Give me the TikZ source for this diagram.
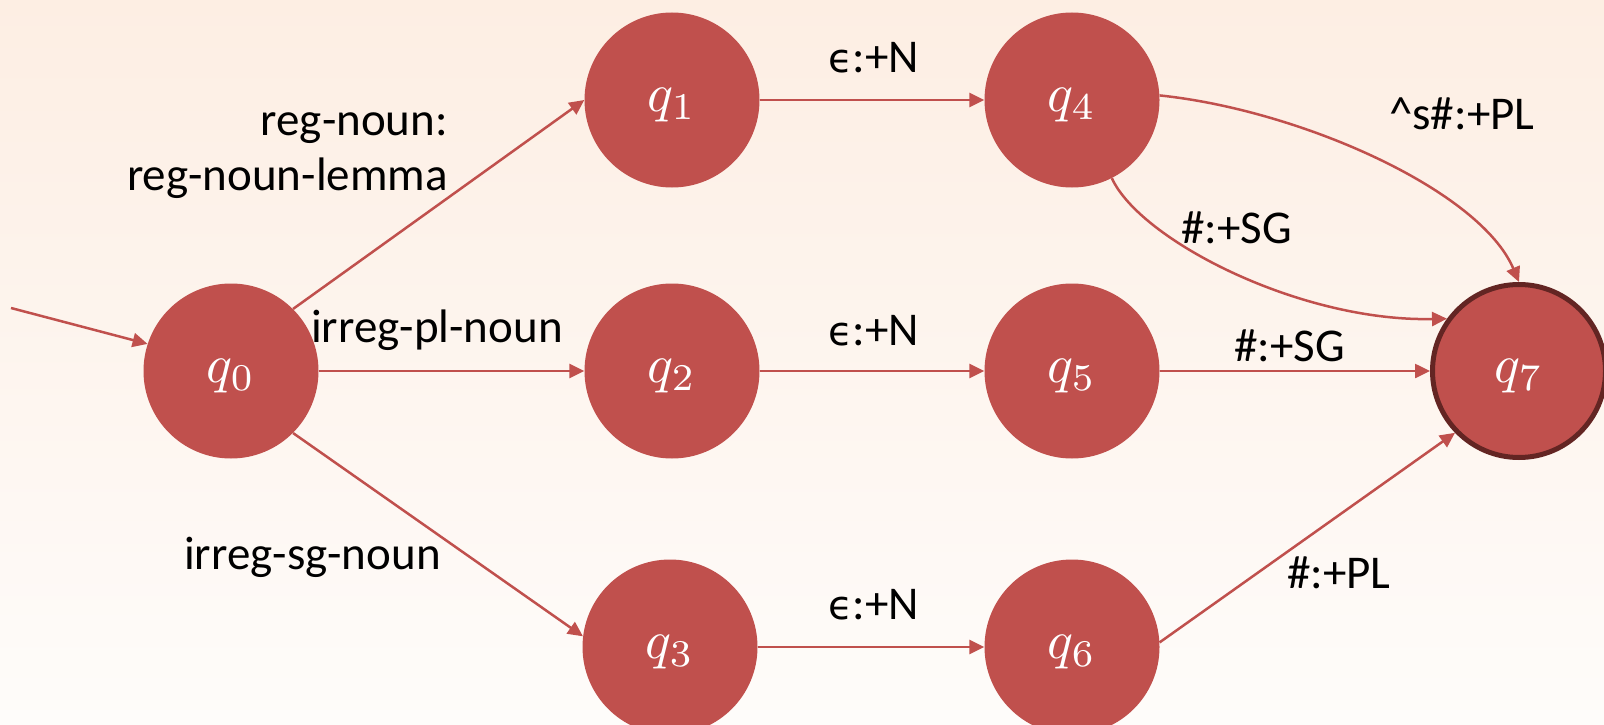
\documentclass[tikz,border=0pt]{standalone}
\usepackage{graphicx}
\usepackage{fontspec}
\setmainfont{Carlito}
\newfontfamily\greekfont{DejaVu Sans}
\usetikzlibrary{arrows.meta}
\definecolor{statered}{HTML}{C0504D}
\definecolor{finalrim}{HTML}{632523}
\definecolor{bgtop}{HTML}{FDEEE3}
\definecolor{bgbottom}{HTML}{FEFCFA}
\newcommand{\eps}{{\greekfont\fontsize{40}{48}\selectfont ϵ}}
\newcommand{\statelabel}[1]{\scalebox{5.4}{$q_{#1}$}}
\begin{document}
\begin{tikzpicture}[x=1pt,y=-1pt,
  state/.style={circle, fill=statered, minimum size=175pt, inner sep=0pt,
    text=white, font=\normalsize, text depth=0pt},
  final/.style={state, draw=finalrim, line width=5pt, minimum size=173pt},
  trans/.style={draw=statered, line width=2.5pt,
    -{Triangle[length=15pt,width=14pt]}},
  lbl/.style={font=\fontsize{47}{56}\selectfont, text=black, inner sep=0pt}
]
% page background
\fill[top color=bgtop, bottom color=bgbottom] (0,0) rectangle (1604,725);
\useasboundingbox (0,0) rectangle (1604,725);

% states
\node[state] (q0) at (231,371) {\statelabel{0}};
\node[state] (q1) at (672,100) {\statelabel{1}};
\node[state] (q2) at (672,371) {\statelabel{2}};
\node[state] (q3) at (670,647) {\statelabel{3}};
\node[state] (q4) at (1072,100) {\statelabel{4}};
\node[state] (q5) at (1072,371) {\statelabel{5}};
\node[state] (q6) at (1072,647) {\statelabel{6}};
\node[final] (q7) at (1519,371) {\statelabel{7}};

% start arrow
\coordinate (start) at (11,308);
\draw[trans] (start) -- (q0.162);

% transitions
\draw[trans] (q0.45) -- (q1.west);
\draw[trans] (q0.east) -- (q2.west);
\draw[trans] (q0.-45) -- (q3.173);
\draw[trans] (q1.east) -- (q4.west);
\draw[trans] (q2.east) -- (q5.west);
\draw[trans] (q3.east) -- (q6.west);
\draw[trans] (q4.3) .. controls (1300,110) and (1480,190) .. (q7.north);
\draw[trans] (q4.-63) .. controls (1140,240) and (1300,322) .. (q7.144);
\draw[trans] (q5.east) -- (q7.west);
\draw[trans] (q6.3) -- (q7.-136);

% transition labels
\node[lbl, anchor=base east] (l01a) at (448,135) {reg-noun:};
\node[lbl, anchor=base east] (l01b) at (448,190) {reg-noun-lemma};
\node[lbl, anchor=base west] (l02) at (311,342) {irreg-pl-noun};
\node[lbl, anchor=base west] (l03) at (184,569) {irreg-sg-noun};
\node[lbl, anchor=base west] (l14) at (828,73) {\eps:+N};
\node[lbl, anchor=base west] (l25) at (828,345) {\eps:+N};
\node[lbl, anchor=base west] (l36) at (828,619) {\eps:+N};
\node[lbl, anchor=base west] (l47a) at (1389,129) {\^{}s\#:+PL};
\node[lbl, anchor=base west] (l47b) at (1181,243) {\#:+SG};
\node[lbl, anchor=base west] (l57) at (1234,361) {\#:+SG};
\node[lbl, anchor=base west] (l67) at (1287,588) {\#:+PL};
\end{tikzpicture}
\end{document}
